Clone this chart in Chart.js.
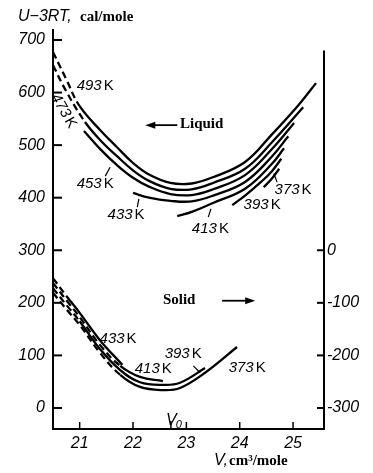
<!DOCTYPE html>
<html>
<head>
<meta charset="utf-8">
<script src="https://cdn.jsdelivr.net/npm/chart.js@4.4.0/dist/chart.umd.min.js"></script>
<style>
  html, body { margin: 0; padding: 0; background: #fff; }
  #wrap { width: 373px; height: 473px; }
</style>
</head>
<body>
<div id="wrap"><canvas id="energyChart"></canvas></div>
<script>
// axis ticks
const xTicks = [21, 22, 23, 24, 25];
const yTicks = [0, 100, 200, 300, 400, 500, 600, 700];
const rightTicks = [0, -100, -200, -300];

// liquid, U-3RT (cal/mole) against V (cm3/mole)
const liq493V = [20.5, 20.75, 21.0, 21.4, 21.7, 22.0, 22.3, 22.7, 23.1, 23.5, 24.1, 24.6, 25.1, 25.43];
const liq493U = [677, 625, 574, 527, 496, 466, 444, 428, 427, 439, 468, 520, 576, 618];
const liq473V = [20.5, 20.75, 21.1, 21.4, 21.7, 22.0, 22.3, 22.7, 23.1, 23.5, 24.1, 24.6, 25.19];
const liq473U = [652, 602, 544, 508, 479, 452, 432, 417, 416, 428, 455, 505, 572];
const liq453V = [21.08, 21.4, 21.7, 22.0, 22.3, 22.7, 23.1, 23.5, 24.1, 24.6, 25.02];
const liq453U = [527, 491, 462, 438, 421, 407, 405, 416, 443, 492, 542];
const liq433V = [22.0, 22.3, 22.7, 23.1, 23.5, 24.1, 24.6, 24.91];
const liq433U = [409, 400, 394, 393, 404, 430, 478, 517];
const liq413V = [22.83, 23.1, 23.5, 24.1, 24.6, 24.83];
const liq413U = [365, 373, 390, 417, 464, 494];
const liq393V = [23.86, 24.1, 24.4, 24.6, 24.78];
const liq393U = [386, 404, 430, 450, 474];
const liq373V = [24.45, 24.6, 24.74];
const liq373U = [420, 436, 455];

// solid, read on the left axis (right axis = left - 300)
const sol433V = [20.5, 20.75, 21.0, 21.38, 21.8];
const sol433U = [247, 213, 181, 129, 82];
const sol413V = [20.5, 20.75, 21.0, 21.38, 21.76, 22.13, 22.56];
const sol413U = [238, 205, 173, 120, 80, 59, 51];
const sol393V = [20.5, 20.75, 21.0, 21.38, 21.76, 22.13, 22.56, 22.88, 23.35];
const sol393U = [228, 196, 165, 112, 72, 49, 44, 48, 76];
const sol373V = [20.5, 20.75, 21.0, 21.38, 21.76, 22.13, 22.56, 22.88, 23.35, 23.95];
const sol373U = [219, 188, 158, 105, 63, 40, 34, 38, 67, 116];

const yMin = -40, yMax = 719, shift = 300;
const v0 = 22.71;
const rightAxisTop = 380;

const italic = 'italic 16px "Liberation Sans", Arial, sans-serif';
const italicSm = 'italic 15px "Liberation Sans", Arial, sans-serif';
const upright = '15px "Liberation Sans", Arial, sans-serif';
const serifBold = 'bold 15px "Liberation Serif", "Times New Roman", serif';

function curve(vs, us, dashUntil) {
    return {
        data: vs.map((v, i) => ({ x: v, y: us[i] })),
        showLine: true,
        borderColor: '#000',
        borderWidth: 2.3,
        pointRadius: 0,
        tension: 0.4,
        segment: {
            borderDash: c => (dashUntil && c.p1.parsed.x <= dashUntil) ? [7, 4] : undefined
        }
    };
}

function line(ctx, x1, y1, x2, y2) {
    ctx.beginPath();
    ctx.moveTo(x1, y1);
    ctx.lineTo(x2, y2);
    ctx.stroke();
}

function tempLabel(ctx, num, cx, cy, angle) {
    ctx.save();
    ctx.translate(cx, cy);
    ctx.rotate(angle || 0);
    ctx.font = italicSm;
    const w1 = ctx.measureText(num).width;
    ctx.font = upright;
    const w2 = ctx.measureText('K').width;
    const w = w1 + 2 + w2;
    ctx.textBaseline = 'middle';
    ctx.textAlign = 'left';
    ctx.font = italicSm;
    ctx.fillText(num, -w / 2, 0);
    ctx.font = upright;
    ctx.fillText('K', -w / 2 + w1 + 2, 0);
    ctx.restore();
}

function arrow(ctx, x1, y, x2) {
    const dir = Math.sign(x2 - x1);
    line(ctx, x1, y, x2 - dir * 6, y);
    ctx.beginPath();
    ctx.moveTo(x2, y);
    ctx.lineTo(x2 - dir * 10, y - 3.5);
    ctx.lineTo(x2 - dir * 10, y + 3.5);
    ctx.closePath();
    ctx.fill();
}

const overlay = {
    id: 'overlay',
    afterDraw(chart) {
        const { ctx, chartArea: a, scales: { x, y, y2 } } = chart;
        const X = v => x.getPixelForValue(v);
        const Y = u => y.getPixelForValue(u);
        ctx.save();
        ctx.strokeStyle = '#000';
        ctx.fillStyle = '#000';
        ctx.lineWidth = 2;

        // right axis and inward ticks
        line(ctx, a.right, y2.getPixelForValue(rightAxisTop), a.right, a.bottom + 1);
        yTicks.forEach(u => line(ctx, a.left, Y(u), a.left + 9, Y(u)));
        rightTicks.forEach(u => line(ctx, a.right - 7, y2.getPixelForValue(u), a.right, y2.getPixelForValue(u)));
        ctx.lineWidth = 1.5;
        xTicks.forEach(v => line(ctx, X(v), a.bottom, X(v), a.bottom - 7));
        line(ctx, X(v0), a.bottom, X(v0), a.bottom - 8);

        // liquid labels
        tempLabel(ctx, '493', X(21.29), Y(613));
        tempLabel(ctx, '473', X(20.7), Y(565), 1.05);
        tempLabel(ctx, '453', X(21.29), Y(426));
        tempLabel(ctx, '433', X(21.87), Y(367));
        tempLabel(ctx, '413', X(23.45), Y(341));
        tempLabel(ctx, '393', X(24.42), Y(386));
        tempLabel(ctx, '373', X(25.0), Y(415));
        ctx.lineWidth = 1.2;
        line(ctx, X(21.48), Y(441), X(21.57), Y(458));
        line(ctx, X(22.08), Y(382), X(22.11), Y(398));
        line(ctx, X(23.41), Y(363), X(23.46), Y(379));
        line(ctx, X(24.70), Y(430), X(24.64), Y(446));

        // solid labels
        tempLabel(ctx, '433', X(21.72), Y(131));
        tempLabel(ctx, '413', X(22.38), Y(74));
        tempLabel(ctx, '393', X(22.94), Y(103));
        tempLabel(ctx, '373', X(24.14), Y(76));
        line(ctx, X(23.13), Y(80), X(23.26), Y(67));

        // phase notes with arrows
        ctx.lineWidth = 1.8;
        ctx.font = serifBold;
        ctx.textBaseline = 'middle';
        ctx.textAlign = 'left';
        ctx.fillText('Liquid', X(22.88), Y(540));
        arrow(ctx, X(22.83), Y(538), X(22.23));
        ctx.fillText('Solid', X(22.56), Y(205));
        arrow(ctx, X(23.67), Y(204), X(24.29));

        // V0 mark
        ctx.textBaseline = 'alphabetic';
        ctx.font = italic;
        ctx.fillText('V', X(22.62), Y(-32));
        const vw = ctx.measureText('V').width;
        ctx.font = 'italic 11px "Liberation Sans", Arial, sans-serif';
        ctx.fillText('0', X(22.62) + vw - 1, Y(-32) + 3);

        // axis titles
        ctx.textBaseline = 'middle';
        ctx.font = italic;
        ctx.fillText('U\u22123RT,', 18, 17);
        ctx.font = serifBold;
        ctx.fillText('cal/mole', 80, 17);
        ctx.font = italic;
        ctx.fillText('V,', 214, 461);
        ctx.font = serifBold;
        ctx.fillText('cm\u00b3/mole', 229, 461);
        ctx.restore();
    }
};

document.addEventListener('DOMContentLoaded', function() {
    const ctx = document.getElementById('energyChart');
    const tickStyle = { font: { family: '"Liberation Sans", Arial, sans-serif', size: 16, style: 'italic' }, color: '#000' };

    new Chart(ctx, {
        type: 'scatter',
        data: {
            datasets: [
                curve(liq493V, liq493U, 21.0),
                curve(liq473V, liq473U, 21.1),
                curve(liq453V, liq453U),
                curve(liq433V, liq433U),
                curve(liq413V, liq413U),
                curve(liq393V, liq393U),
                curve(liq373V, liq373U),
                curve(sol433V, sol433U, 20.75),
                curve(sol413V, sol413U, 21.76),
                curve(sol393V, sol393U, 21.0),
                curve(sol373V, sol373U, 21.76)
            ]
        },
        options: {
            responsive: true,
            maintainAspectRatio: false,
            animation: false,
            layout: { padding: { top: 30, left: 0, right: 0, bottom: 0 } },
            plugins: {
                legend: { display: false },
                tooltip: { enabled: false }
            },
            scales: {
                x: {
                    type: 'linear',
                    min: 20.5,
                    max: 25.58,
                    afterBuildTicks: s => { s.ticks = xTicks.map(v => ({ value: v })); },
                    afterFit: s => { s.height = 44; },
                    grid: { display: false, drawTicks: false },
                    border: { display: true, color: '#000', width: 2 },
                    ticks: Object.assign({ padding: 5, maxRotation: 0 }, tickStyle)
                },
                y: {
                    min: yMin,
                    max: yMax,
                    afterBuildTicks: s => { s.ticks = yTicks.map(v => ({ value: v })); },
                    afterFit: s => { s.width = 53; },
                    grid: { display: false, drawTicks: false },
                    border: { display: true, color: '#000', width: 2 },
                    ticks: Object.assign({ padding: 8 }, tickStyle)
                },
                y2: {
                    position: 'right',
                    min: yMin - shift,
                    max: yMax - shift,
                    afterBuildTicks: s => { s.ticks = rightTicks.map(v => ({ value: v })); },
                    afterFit: s => { s.width = 49; },
                    grid: { display: false, drawTicks: false },
                    border: { display: false },
                    ticks: Object.assign({ padding: 3 }, tickStyle)
                }
            }
        },
        plugins: [overlay]
    });
});
</script>
</body>
</html>
